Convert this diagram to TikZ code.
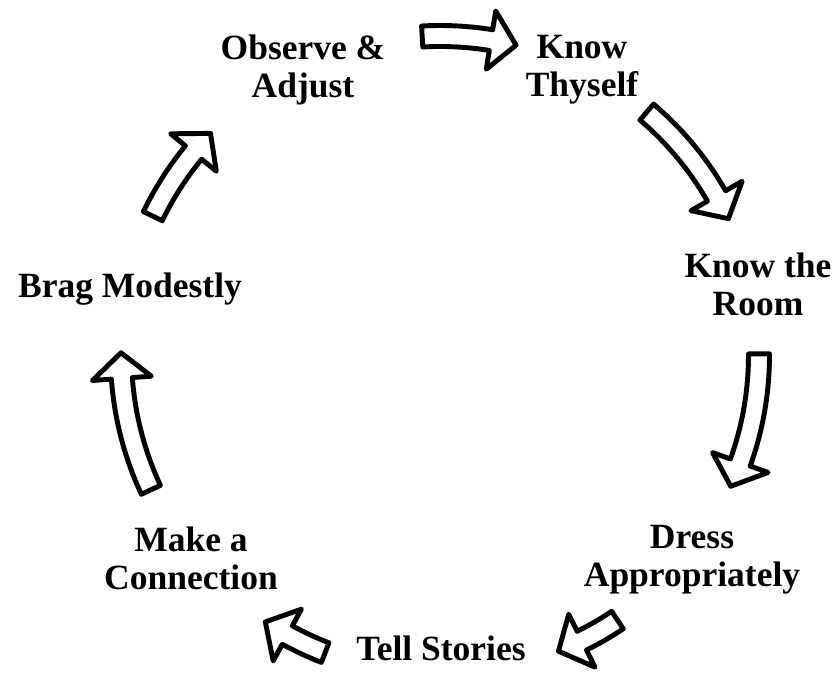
\documentclass[tikz,border=0pt]{standalone}
\usepackage{fontspec}
\setmainfont{Liberation Serif}
\usepackage{tikz}
\usetikzlibrary{calc}

% curved block arrow round the cycle centre: start angle, end angle
\newcommand{\cyclearrow}[2]{%
  \draw[arrow_style] ({#1}:{\cycrad+\bodyhalf})
    arc[start angle={#1}, end angle={#2+\headang}, radius={\cycrad+\bodyhalf}]
    -- ({#2+\headang}:{\cycrad+\headhalf}) -- ({#2}:{\cycrad})
    -- ({#2+\headang}:{\cycrad-\headhalf}) -- ({#2+\headang}:{\cycrad-\bodyhalf})
    arc[start angle={#2+\headang}, end angle={#1}, radius={\cycrad-\bodyhalf}] -- cycle;}
\newcommand{\cycrad}{319}
\newcommand{\bodyhalf}{10.5}
\newcommand{\headhalf}{29.5}
\newcommand{\headang}{4.6}

\begin{document}
\begin{tikzpicture}[x=0.02cm, y=0.02cm,
        label_style/.style={align=center, inner sep=0pt, font=\bfseries\fontsize{20.2}{21.5}\selectfont},
        arrow_style/.style={draw=black, fill=white, line width=2.8pt, line join=round}]
        \useasboundingbox (0,0) rectangle (832,692);

        \node [label_style](observe) at (303,622) {Observe \&\\Adjust};
        \node [label_style](thyself) at (582,622) {Know\\Thyself};
        \node [label_style](room) at (758,408) {Know the\\Room};
        \node [label_style](dress) at (692,132) {Dress\\Appropriately};
        \node [label_style](stories) at (441,44) {Tell Stories};
        \node [label_style](connect) at (191,134) {Make a\\Connection};
        \node [label_style](brag) at (130,403) {Brag Modestly};

        \begin{scope}[shift={(440,337)}]
        \cyclearrow{93.2}{76.2}
        \cyclearrow{49.6}{25.3}
        \cyclearrow{0.2}{-24.3}
        \cyclearrow{-56.2}{-68.2}
        \cyclearrow{-111.1}{-123.2}
        \cyclearrow{205}{179.6}
        \cyclearrow{154.2}{136}
        \end{scope}
\end{tikzpicture}
\end{document}
